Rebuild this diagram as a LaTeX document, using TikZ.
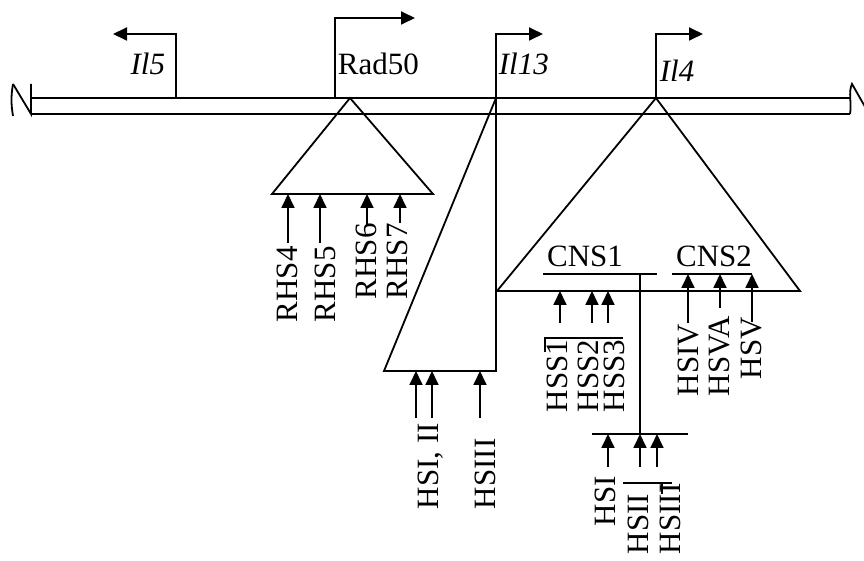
\documentclass[tikz,border=0pt]{standalone}
\usepackage{fontspec}
\setmainfont{Liberation Serif}
\usetikzlibrary{arrows.meta}
\tikzset{
  site/.style={-{Triangle[length=7pt,width=6.5pt]}},
  promoter/.style={-{Triangle[length=7pt,width=6.5pt]}},
  hslabel/.style={rotate=90,anchor=west,inner sep=0pt},
  genelabel/.style={inner sep=0pt}
}
\begin{document}
\begin{tikzpicture}[x=0.5pt,y=-0.5pt,line width=0.9pt,font=\fontsize{15.5}{18}\selectfont]
  \useasboundingbox (0,0) rectangle (864,561);
  % chromosome with break marks
  \draw (31,98) -- (850,98);
  \draw (31,114) -- (850,114);
  \draw (13,84) .. controls (11,96) and (11,104) .. (13,116);
  \draw (13,84) -- (31,114) -- (31,84);
  \draw (850,114) .. controls (852,104) and (848,92) .. (852,84) -- (868,112);
  % promoters
  \draw[promoter] (176,98) -- (176,34) -- (113,34);
  \draw[promoter] (335,98) -- (335,18) -- (415,18);
  \draw[promoter] (496,98) -- (496,34) -- (543,34);
  \draw[promoter] (656,98) -- (656,34) -- (703,34);
  \node[genelabel,anchor=base east] (il5) at (166,75) {\itshape Il5};
  \node[genelabel,anchor=base west] (rad50) at (337,75) {Rad50};
  \node[genelabel,anchor=base west] (il13) at (498,75) {\itshape Il13};
  \node[genelabel,anchor=base west] (il4) at (659,82) {\itshape Il4};
  % regulatory regions
  \draw (350,98) -- (433,194) -- (272,194) -- cycle;
  \draw (496,98) -- (496,371) -- (384,371) -- cycle;
  \draw (656,98) -- (800,291) -- (497,291) -- cycle;
  % CNS1 and CNS2
  \node[genelabel,anchor=base] (cns1) at (585,267) {CNS1};
  \node[genelabel,anchor=base] (cns2) at (714,267) {CNS2};
  \draw (543,274) -- (657,274);
  \draw (672,274) -- (752,274);
  \draw (640,274) -- (640,434);
  \draw (592,434) -- (688,434);
  % Rad50 sites
  \node[hslabel] (rhs4) at (287,323) {RHS4};
  \node[hslabel] (rhs5) at (325,323) {RHS5};
  \node[hslabel] (rhs6) at (366,300) {RHS6};
  \node[hslabel] (rhs7) at (397,300) {RHS7};
  \draw[site] (288,243) -- (288,194);
  \draw[site] (320,243) -- (320,194);
  \draw[site] (367,225) -- (367,194);
  \draw[site] (400,223) -- (400,194);
  % Il13 sites
  \node[hslabel] (hs12) at (431,510) {HSI, II};
  \node[hslabel] (hs3) at (485,510) {HSIII};
  \draw[site] (416,418) -- (416,371);
  \draw[site] (432,418) -- (432,371);
  \draw[site] (480,418) -- (480,371);
  % Il4 sites
  \node[hslabel] (hss1) at (557,413) {HSS1};
  \node[hslabel] (hss2) at (588,413) {HSS2};
  \node[hslabel] (hss3) at (614,413) {HSS3};
  \draw (545,352) -- (545,338) -- (623,338);
  \draw[site] (560,323) -- (560,291);
  \draw[site] (592,323) -- (592,291);
  \draw[site] (608,323) -- (608,291);
  \node[hslabel] (hsiv) at (688,397) {HSIV};
  \node[hslabel] (hsva) at (719,397) {HSVA};
  \node[hslabel] (hsv) at (751,380) {HSV};
  \draw[site] (688,323) -- (688,274);
  \draw[site] (720,308) -- (720,274);
  \draw[site] (752,322) -- (752,274);
  % lower cluster
  \node[hslabel] (hsi) at (605,527) {HSI};
  \node[hslabel] (hsii) at (638,555) {HSII};
  \node[hslabel] (hsiii) at (670,555) {HSIII};
  \draw (623,483) -- (672,483);
  \draw (662,483) -- (662,494);
  \draw[site] (608,467) -- (608,434);
  \draw[site] (640,467) -- (640,434);
  \draw[site] (657,467) -- (657,434);
\end{tikzpicture}
\end{document}
